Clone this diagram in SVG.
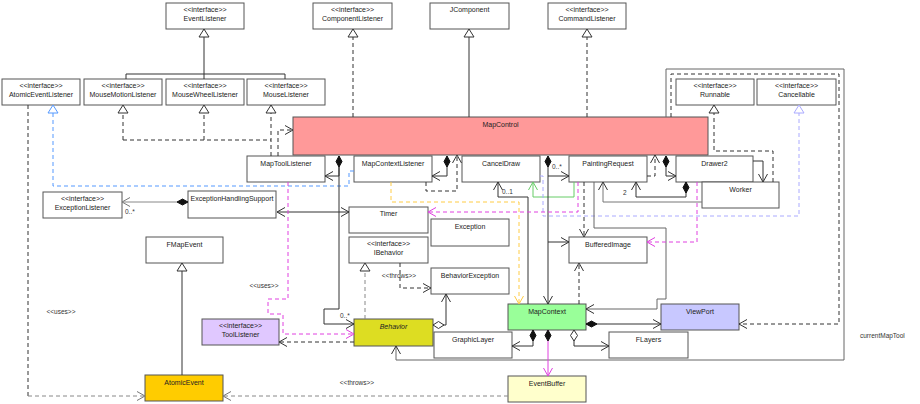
<svg xmlns="http://www.w3.org/2000/svg" width="920" height="404" viewBox="0 0 920 404">
<style>
.b{fill:#fff;stroke:#555;stroke-width:1}
.t{font-family:"Liberation Sans",Arial,sans-serif;font-size:7px;fill:#222;text-anchor:middle}
.l{font-family:"Liberation Sans",Arial,sans-serif;font-size:6.5px;fill:#333}
.lc{font-family:"Liberation Sans",Arial,sans-serif;font-size:6.5px;fill:#333;text-anchor:middle}
.k{fill:none;stroke:#333;stroke-width:1}
.g{fill:none;stroke:#888;stroke-width:1}
.d{stroke-dasharray:4 3}
</style>
<defs>
<marker id="aK" markerUnits="userSpaceOnUse" orient="auto" refX="0" refY="0" markerWidth="10" markerHeight="10" overflow="visible"><path d="M-8 -4.5 L0 0 L-8 4.5" fill="none" stroke="#333"/></marker>
<marker id="aKr" markerUnits="userSpaceOnUse" orient="auto-start-reverse" refX="0" refY="0" markerWidth="10" markerHeight="10" overflow="visible"><path d="M-8 -4.5 L0 0 L-8 4.5" fill="none" stroke="#333"/></marker>
<marker id="aG" markerUnits="userSpaceOnUse" orient="auto" refX="0" refY="0" markerWidth="10" markerHeight="10" overflow="visible"><path d="M-8 -4.5 L0 0 L-8 4.5" fill="none" stroke="#777"/></marker>
<marker id="aM" markerUnits="userSpaceOnUse" orient="auto" refX="0" refY="0" markerWidth="10" markerHeight="10" overflow="visible"><path d="M-8 -4.5 L0 0 L-8 4.5" fill="none" stroke="#e040e0"/></marker>
<marker id="aY" markerUnits="userSpaceOnUse" orient="auto" refX="0" refY="0" markerWidth="10" markerHeight="10" overflow="visible"><path d="M-8 -4.5 L0 0 L-8 4.5" fill="none" stroke="#ffcc44"/></marker>
<marker id="aGr" markerUnits="userSpaceOnUse" orient="auto" refX="0" refY="0" markerWidth="10" markerHeight="10" overflow="visible"><path d="M-8 -4.5 L0 0 L-8 4.5" fill="none" stroke="#66cc66"/></marker>
<marker id="tK" markerUnits="userSpaceOnUse" orient="auto" refX="0" refY="0" markerWidth="10" markerHeight="12" overflow="visible"><path d="M0 0 L-8 -5 L-8 5 Z" fill="#fff" stroke="#333"/></marker>
<marker id="tB" markerUnits="userSpaceOnUse" orient="auto" refX="0" refY="0" markerWidth="10" markerHeight="12" overflow="visible"><path d="M0 0 L-8 -5 L-8 5 Z" fill="#fff" stroke="#5599ff"/></marker>
<marker id="tL" markerUnits="userSpaceOnUse" orient="auto" refX="0" refY="0" markerWidth="10" markerHeight="12" overflow="visible"><path d="M0 0 L-8 -5 L-8 5 Z" fill="#fff" stroke="#aaaaff"/></marker>
<marker id="dF" markerUnits="userSpaceOnUse" orient="auto" refX="0" refY="0" markerWidth="12" markerHeight="8" overflow="visible"><path d="M0 0 L5.5 -3 L11 0 L5.5 3 Z" fill="#111" stroke="#111"/></marker>
<marker id="dH" markerUnits="userSpaceOnUse" orient="auto" refX="0" refY="0" markerWidth="12" markerHeight="8" overflow="visible"><path d="M0 0 L5.5 -3.5 L11 0 L5.5 3.5 Z" fill="#fff" stroke="#333"/></marker>
</defs>
<rect width="920" height="404" fill="#fff"/>

<g id="nodes">
<g id="EventListener"><rect class="b" x="166" y="3" width="78" height="26"/><text class="t" x="205" y="11.5">&lt;&lt;interface&gt;&gt;</text><text class="t" x="205" y="20.5">EventListener</text></g>
<g id="ComponentListener"><rect class="b" x="313" y="3" width="79" height="26"/><text class="t" x="352.5" y="11.5">&lt;&lt;interface&gt;&gt;</text><text class="t" x="352.5" y="20.5">ComponentListener</text></g>
<g id="JComponent"><rect class="b" x="430" y="3" width="79" height="26"/><text class="t" x="469.5" y="12">JComponent</text></g>
<g id="CommandListener"><rect class="b" x="548" y="3" width="78" height="26"/><text class="t" x="587" y="11.5">&lt;&lt;interface&gt;&gt;</text><text class="t" x="587" y="20.5">CommandListener</text></g>
<g id="AtomicEventListener"><rect class="b" x="2" y="79" width="78" height="26"/><text class="t" x="41" y="87.5">&lt;&lt;interface&gt;&gt;</text><text class="t" x="41" y="96.5">AtomicEventListener</text></g>
<g id="MouseMotionListener"><rect class="b" x="84" y="79" width="78" height="26"/><text class="t" x="123" y="87.5">&lt;&lt;interface&gt;&gt;</text><text class="t" x="123" y="96.5">MouseMotionListener</text></g>
<g id="MouseWheelListener"><rect class="b" x="166" y="79" width="78" height="26"/><text class="t" x="205" y="87.5">&lt;&lt;interface&gt;&gt;</text><text class="t" x="205" y="96.5">MouseWheelListener</text></g>
<g id="MouseListener"><rect class="b" x="247" y="79" width="78" height="26"/><text class="t" x="286" y="87.5">&lt;&lt;interface&gt;&gt;</text><text class="t" x="286" y="96.5">MouseListener</text></g>
<g id="Runnable"><rect class="b" x="676" y="79" width="78" height="26"/><text class="t" x="715" y="87.5">&lt;&lt;interface&gt;&gt;</text><text class="t" x="715" y="96.5">Runnable</text></g>
<g id="Cancellable"><rect class="b" x="757" y="79" width="79" height="26"/><text class="t" x="796.5" y="87.5">&lt;&lt;interface&gt;&gt;</text><text class="t" x="796.5" y="96.5">Cancellable</text></g>
<g id="MapControl"><rect class="b" x="293" y="117" width="415" height="38" style="fill:#ff9999"/><text class="t" x="500.5" y="126.5">MapControl</text></g>
<g id="MapToolListener"><rect class="b" x="247" y="156" width="78" height="26"/><text class="t" x="286" y="165.5">MapToolListener</text></g>
<g id="MapContextListener"><rect class="b" x="354" y="156" width="78" height="26"/><text class="t" x="393" y="165.5">MapContextListener</text></g>
<g id="CancelDraw"><rect class="b" x="462" y="156" width="78" height="26"/><text class="t" x="501" y="165.5">CancelDraw</text></g>
<g id="PaintingRequest"><rect class="b" x="569" y="156" width="78" height="26"/><text class="t" x="608" y="165.5">PaintingRequest</text></g>
<g id="Drawer2"><rect class="b" x="676" y="156" width="77" height="26"/><text class="t" x="714.5" y="165.5">Drawer2</text></g>
<g id="Worker"><rect class="b" x="702" y="182" width="77" height="26"/><text class="t" x="740.5" y="191.5">Worker</text></g>
<g id="ExceptionListener"><rect class="b" x="43" y="192" width="79" height="26"/><text class="t" x="82.5" y="200.5">&lt;&lt;interface&gt;&gt;</text><text class="t" x="82.5" y="209.5">ExceptionListener</text></g>
<g id="ExceptionHandlingSupport"><rect class="b" x="188" y="191" width="88" height="27"/><text class="t" x="232" y="201">ExceptionHandlingSupport</text></g>
<g id="Timer"><rect class="b" x="349" y="207" width="79" height="26"/><text class="t" x="388.5" y="215.5">Timer</text></g>
<g id="Exception"><rect class="b" x="431" y="219" width="78" height="27"/><text class="t" x="470" y="229">Exception</text></g>
<g id="IBehavior"><rect class="b" x="349" y="237" width="79" height="26"/><text class="t" x="388.5" y="245.5">&lt;&lt;interface&gt;&gt;</text><text class="t" x="388.5" y="254.5">IBehavior</text></g>
<g id="BufferedImage"><rect class="b" x="569" y="237" width="78" height="26"/><text class="t" x="608" y="246.5">BufferedImage</text></g>
<g id="FMapEvent"><rect class="b" x="146" y="237" width="77" height="26"/><text class="t" x="184.5" y="246.5">FMapEvent</text></g>
<g id="BehaviorException"><rect class="b" x="431" y="268" width="78" height="26"/><text class="t" x="470" y="278">BehaviorException</text></g>
<g id="MapContext"><rect class="b" x="508" y="304" width="78" height="26" style="fill:#99ff99"/><text class="t" x="547" y="313.5">MapContext</text></g>
<g id="ViewPort"><rect class="b" x="661" y="304" width="78" height="26" style="fill:#c8c8ff"/><text class="t" x="700" y="313.5">ViewPort</text></g>
<g id="Behavior"><rect class="b" x="354" y="319" width="79" height="27" style="fill:#dddd22"/><text class="t" x="393.5" y="329" font-style="italic">Behavior</text></g>
<g id="ToolListener"><rect class="b" x="202" y="319" width="77" height="26" style="fill:#e0c8ff"/><text class="t" x="240.5" y="327.5">&lt;&lt;interface&gt;&gt;</text><text class="t" x="240.5" y="336.5">ToolListener</text></g>
<g id="GraphicLayer"><rect class="b" x="434" y="332" width="78" height="26"/><text class="t" x="473" y="341.5">GraphicLayer</text></g>
<g id="FLayers"><rect class="b" x="609" y="332" width="79" height="26"/><text class="t" x="648.5" y="341.5">FLayers</text></g>
<g id="AtomicEvent"><rect class="b" x="145" y="375" width="78" height="26" style="fill:#ffcc00"/><text class="t" x="184" y="384.5">AtomicEvent</text></g>
<g id="EventBuffer"><rect class="b" x="508" y="376" width="78" height="26" style="fill:#ffffcc"/><text class="t" x="547" y="385.5">EventBuffer</text></g>
</g>

<g id="connectors">
<path class="k" d="M126 79 V74 H285 V79 M204 79 V74"/>
<path class="k" d="M204 74 V29" marker-end="url(#tK)"/>
<path class="k d" d="M353 117 V29" marker-end="url(#tK)"/>
<path class="k" d="M469 117 V29" marker-end="url(#tK)"/>
<path class="k d" d="M587 117 V29" marker-end="url(#tK)"/>
<path class="k d" d="M123 140 V105" marker-end="url(#tK)"/>
<path class="k d" d="M204 140 V105" marker-end="url(#tK)"/>
<path class="k d" d="M271 156 V105" marker-end="url(#tK)"/>
<path class="k d" d="M123 140 H271"/>
<path class="k d" d="M278 156 V130 H293" marker-end="url(#aK)"/>
<path class="d" fill="none" stroke="#5599ff" d="M354 171 H349 V186 H53 V105" marker-end="url(#tB)"/>
<path class="k d" d="M28 105 V396"/>
<path class="g d" d="M28 396 H145" marker-end="url(#aG)"/>
<path class="k" d="M339 156 V176 H325" marker-start="url(#dF)" marker-end="url(#aK)"/>
<path class="k" d="M339 167 V309 H324 V324 H354" marker-end="url(#aK)"/>
<path class="k" d="M277 212 H349" marker-start="url(#aKr)" marker-end="url(#aK)"/>
<path class="g" d="M188 202 H122" marker-start="url(#dF)" marker-end="url(#aG)"/>
<path class="k" d="M182 375 V263" marker-end="url(#tK)"/>
<path class="k" d="M447 156 V176 H432" marker-start="url(#dF)" marker-end="url(#aK)"/>
<path class="k d" d="M426 182 V191 H457 V155" marker-end="url(#aK)"/>
<path class="d" fill="none" stroke="#ffcc44" d="M391 182 V202 H519 V304" marker-end="url(#aY)"/>
<path class="k" d="M528 304 V197 H498 V182" marker-end="url(#aK)"/>
<path fill="none" stroke="#66cc66" d="M574 182 V197 H533 V182" marker-end="url(#aGr)"/>
<path class="d" fill="none" stroke="#aaaaff" d="M540 176 H543 V216 H799 V105" marker-end="url(#tL)"/>
<path class="k" d="M548 156 V304" marker-start="url(#dF)" marker-end="url(#aK)"/>
<path class="k" d="M548 176 H569" marker-end="url(#aK)"/>
<path class="k" d="M548 242 H569" marker-end="url(#aK)"/>
<path class="k d" d="M584 182 V237" marker-end="url(#aK)"/>
<path fill="none" stroke="#666" d="M594 182 V228 H666 V299 H657 V309 H586" marker-end="url(#aK)"/>
<path class="k d" d="M579 304 V263" marker-end="url(#aK)"/>
<path class="d" fill="none" stroke="#e040e0" d="M578 182 V212 H428" marker-end="url(#aM)"/>
<path class="k d" d="M647 176 H655 V155" marker-end="url(#aK)"/>
<path class="k" d="M666 156 V176 H676" marker-start="url(#dF)" marker-end="url(#aK)"/>
<path class="k" d="M686 182 V197 H636 V182" marker-start="url(#dF)" marker-end="url(#aK)"/>
<path fill="none" stroke="#777" d="M702 202 H603 V182" marker-end="url(#aK)"/>
<path class="k" d="M753 161 H763 V182" marker-end="url(#aK)"/>
<path class="k d" d="M773 182 V151 H714 V105" marker-end="url(#tK)"/>
<path class="d" fill="none" stroke="#e040e0" d="M697 182 V242 H647" marker-end="url(#aM)"/>
<path class="k d" d="M671 117 V74 H839 V324 H739" marker-end="url(#aK)"/>
<path fill="none" stroke="#666" d="M666 117 V69 H844 V360 H396 V346" marker-end="url(#aK)"/>
<path class="k" d="M586 324 H661" marker-start="url(#dF)" marker-end="url(#aK)"/>
<path class="k" d="M533 330 V346 H512" marker-start="url(#dF)" marker-end="url(#aK)"/>
<path fill="none" stroke="#e040e0" d="M548 330 V376" marker-start="url(#dF)" marker-end="url(#aM)"/>
<path class="k" d="M574 330 V346 H609" marker-start="url(#dH)" marker-end="url(#aK)"/>
<path class="k" d="M433 325 H446 V294" marker-start="url(#dH)" marker-end="url(#aK)"/>
<path class="k d" d="M400 263 V288 H431" marker-end="url(#aK)"/>
<path class="g d" d="M365 319 V263" marker-end="url(#tK)"/>
<path class="k d" d="M354 342 H279" marker-end="url(#aK)"/>
<path class="d" fill="none" stroke="#e040e0" d="M288 182 V299 H268 V314 H283 V334 H354" marker-end="url(#aM)"/>
<path class="g d" d="M508 396 H223" marker-end="url(#aG)"/>
<text class="l" x="340" y="318">0..*</text>
<text class="l" x="125" y="214">0..*</text>
<text class="l" x="502" y="194">0..1</text>
<text class="l" x="552" y="169">0..*</text>
<text class="l" x="623" y="195">2</text>
<text class="lc" x="399" y="277.5">&lt;&lt;throws&gt;&gt;</text>
<text class="lc" x="61" y="313.5">&lt;&lt;uses&gt;&gt;</text>
<text class="lc" x="264" y="287.5">&lt;&lt;uses&gt;&gt;</text>
<text class="lc" x="357" y="384.5">&lt;&lt;throws&gt;&gt;</text>
<text class="l" x="860" y="338">currentMapTool</text>
</g>
</svg>
